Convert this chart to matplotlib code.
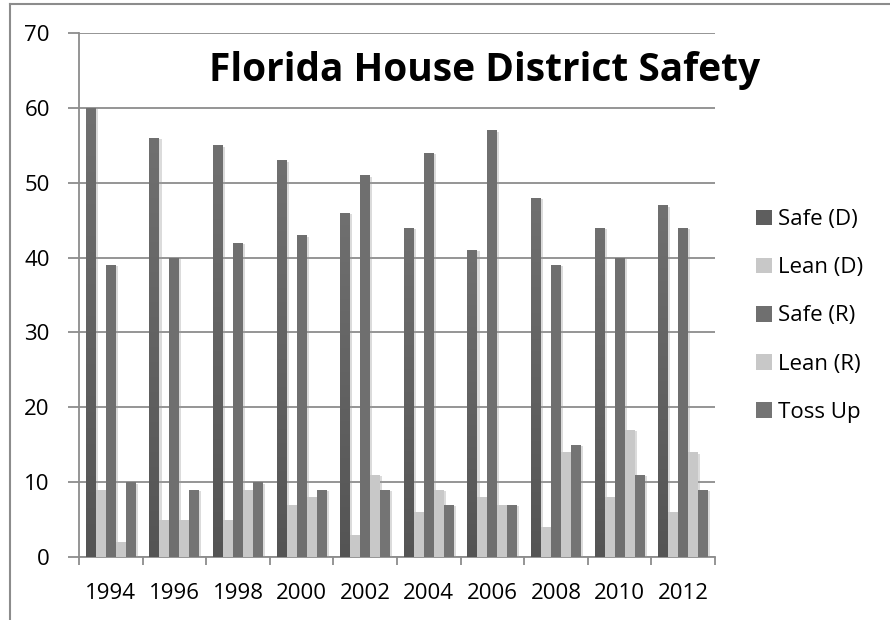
import matplotlib
matplotlib.use("Agg")
import matplotlib.pyplot as plt
import numpy as np
from matplotlib.patches import Patch
from matplotlib.lines import Line2D
from matplotlib.colors import LinearSegmentedColormap
import matplotlib.patheffects as pe

years = ["1994", "1996", "1998", "2000", "2002", "2004", "2006", "2008", "2010", "2012"]
series_names = ["Safe (D)", "Lean (D)", "Safe (R)", "Lean (R)", "Toss Up"]
safe_d = [60, 56, 55, 53, 46, 44, 41, 48, 44, 47]
lean_d = [9, 5, 5, 7, 3, 6, 8, 4, 8, 6]
safe_r = [39, 40, 42, 43, 51, 54, 57, 39, 40, 44]
lean_r = [2, 5, 9, 8, 11, 9, 7, 14, 17, 14]
toss_up = [10, 9, 10, 9, 9, 7, 7, 15, 11, 9]

series = [safe_d, lean_d, safe_r, lean_r, toss_up]
colors = ["#5e5e5e", "#c8c8c8", "#6f6f6f", "#c8c8c8", "#747474"]

plt.rcParams["font.family"] = ["Open Sans", "DejaVu Sans"]

W, H = 890, 620
fig = plt.figure(figsize=(W / 100, H / 100), dpi=100)
fig.patch.set_facecolor("white")

# plot area in pixel coordinates
left, right, top, bottom = 79, 715, 33, 557
ax = fig.add_axes([left / W, 1 - bottom / H, (right - left) / W, (bottom - top) / H])

x = np.arange(len(years))
bw = 0.157
shadow = [pe.SimplePatchShadow(offset=(1.5, -1.0), shadow_rgbFace="#9a9a9a", alpha=0.35), pe.Normal()]
grad_cmap = LinearSegmentedColormap.from_list("safe_d_fill", ["#545454", "#707070"])
grad = np.linspace(0, 1, 256).reshape(-1, 1)

for i, (vals, col) in enumerate(zip(series, colors)):
    bars = ax.bar(x + (i - 2) * bw, vals, width=bw, color=col, linewidth=0, zorder=3)
    for b in bars:
        b.set_path_effects(shadow)
    if i == 0:
        # vertical shading inside the Safe (D) bars, dark at the base
        for b in bars:
            x0, w, h = b.get_x(), b.get_width(), b.get_height()
            im = ax.imshow(grad, extent=[x0, x0 + w, 0, h], origin="lower",
                           aspect="auto", cmap=grad_cmap, zorder=3.5,
                           interpolation="bilinear")
            im.set_clip_path(b)

ax.set_xlim(-0.5, len(years) - 0.5)
ax.set_ylim(0, 70)
ax.set_yticks(np.arange(0, 71, 10))
ax.yaxis.grid(True, color="#8c8c8c", linewidth=1.3, zorder=0)
ax.set_axisbelow(True)

for s in ["top", "right"]:
    ax.spines[s].set_visible(False)
for s in ["left", "bottom"]:
    ax.spines[s].set_color("#8c8c8c")
    ax.spines[s].set_linewidth(1.3)

ax.set_xticks(x)
ax.set_xticklabels(years)
ax.set_xticks(np.arange(-0.5, len(years), 1.0), minor=True)
ax.tick_params(axis="x", which="major", length=0, pad=18.5, labelsize=16)
ax.tick_params(axis="x", which="minor", length=6, width=1.3, color="#8c8c8c", direction="out")
ax.tick_params(axis="y", length=8, width=1.3, color="#8c8c8c", pad=13, labelsize=16)

# outer chart frame (top and left edges)
fig.add_artist(Line2D([10 / W, 10 / W], [0, 1 - 4 / H], transform=fig.transFigure,
                      color="#8c8c8c", linewidth=1.5))
fig.add_artist(Line2D([10 / W, 1], [1 - 4 / H, 1 - 4 / H], transform=fig.transFigure,
                      color="#8c8c8c", linewidth=1.5))

fig.text(485 / W, 1 - 70 / H, "Florida House District Safety", fontsize=28,
         fontweight="bold", ha="center", va="center", color="black")

handles = [Patch(facecolor=c, edgecolor="none") for c in colors]
fig.legend(handles, series_names, loc="center left",
           bbox_to_anchor=(745 / W, 1 - 316 / H), frameon=False, fontsize=16,
           handlelength=0.7, handleheight=0.7, handletextpad=0.3,
           labelspacing=1.22, borderpad=0)

fig.savefig("out.png", dpi=100)
